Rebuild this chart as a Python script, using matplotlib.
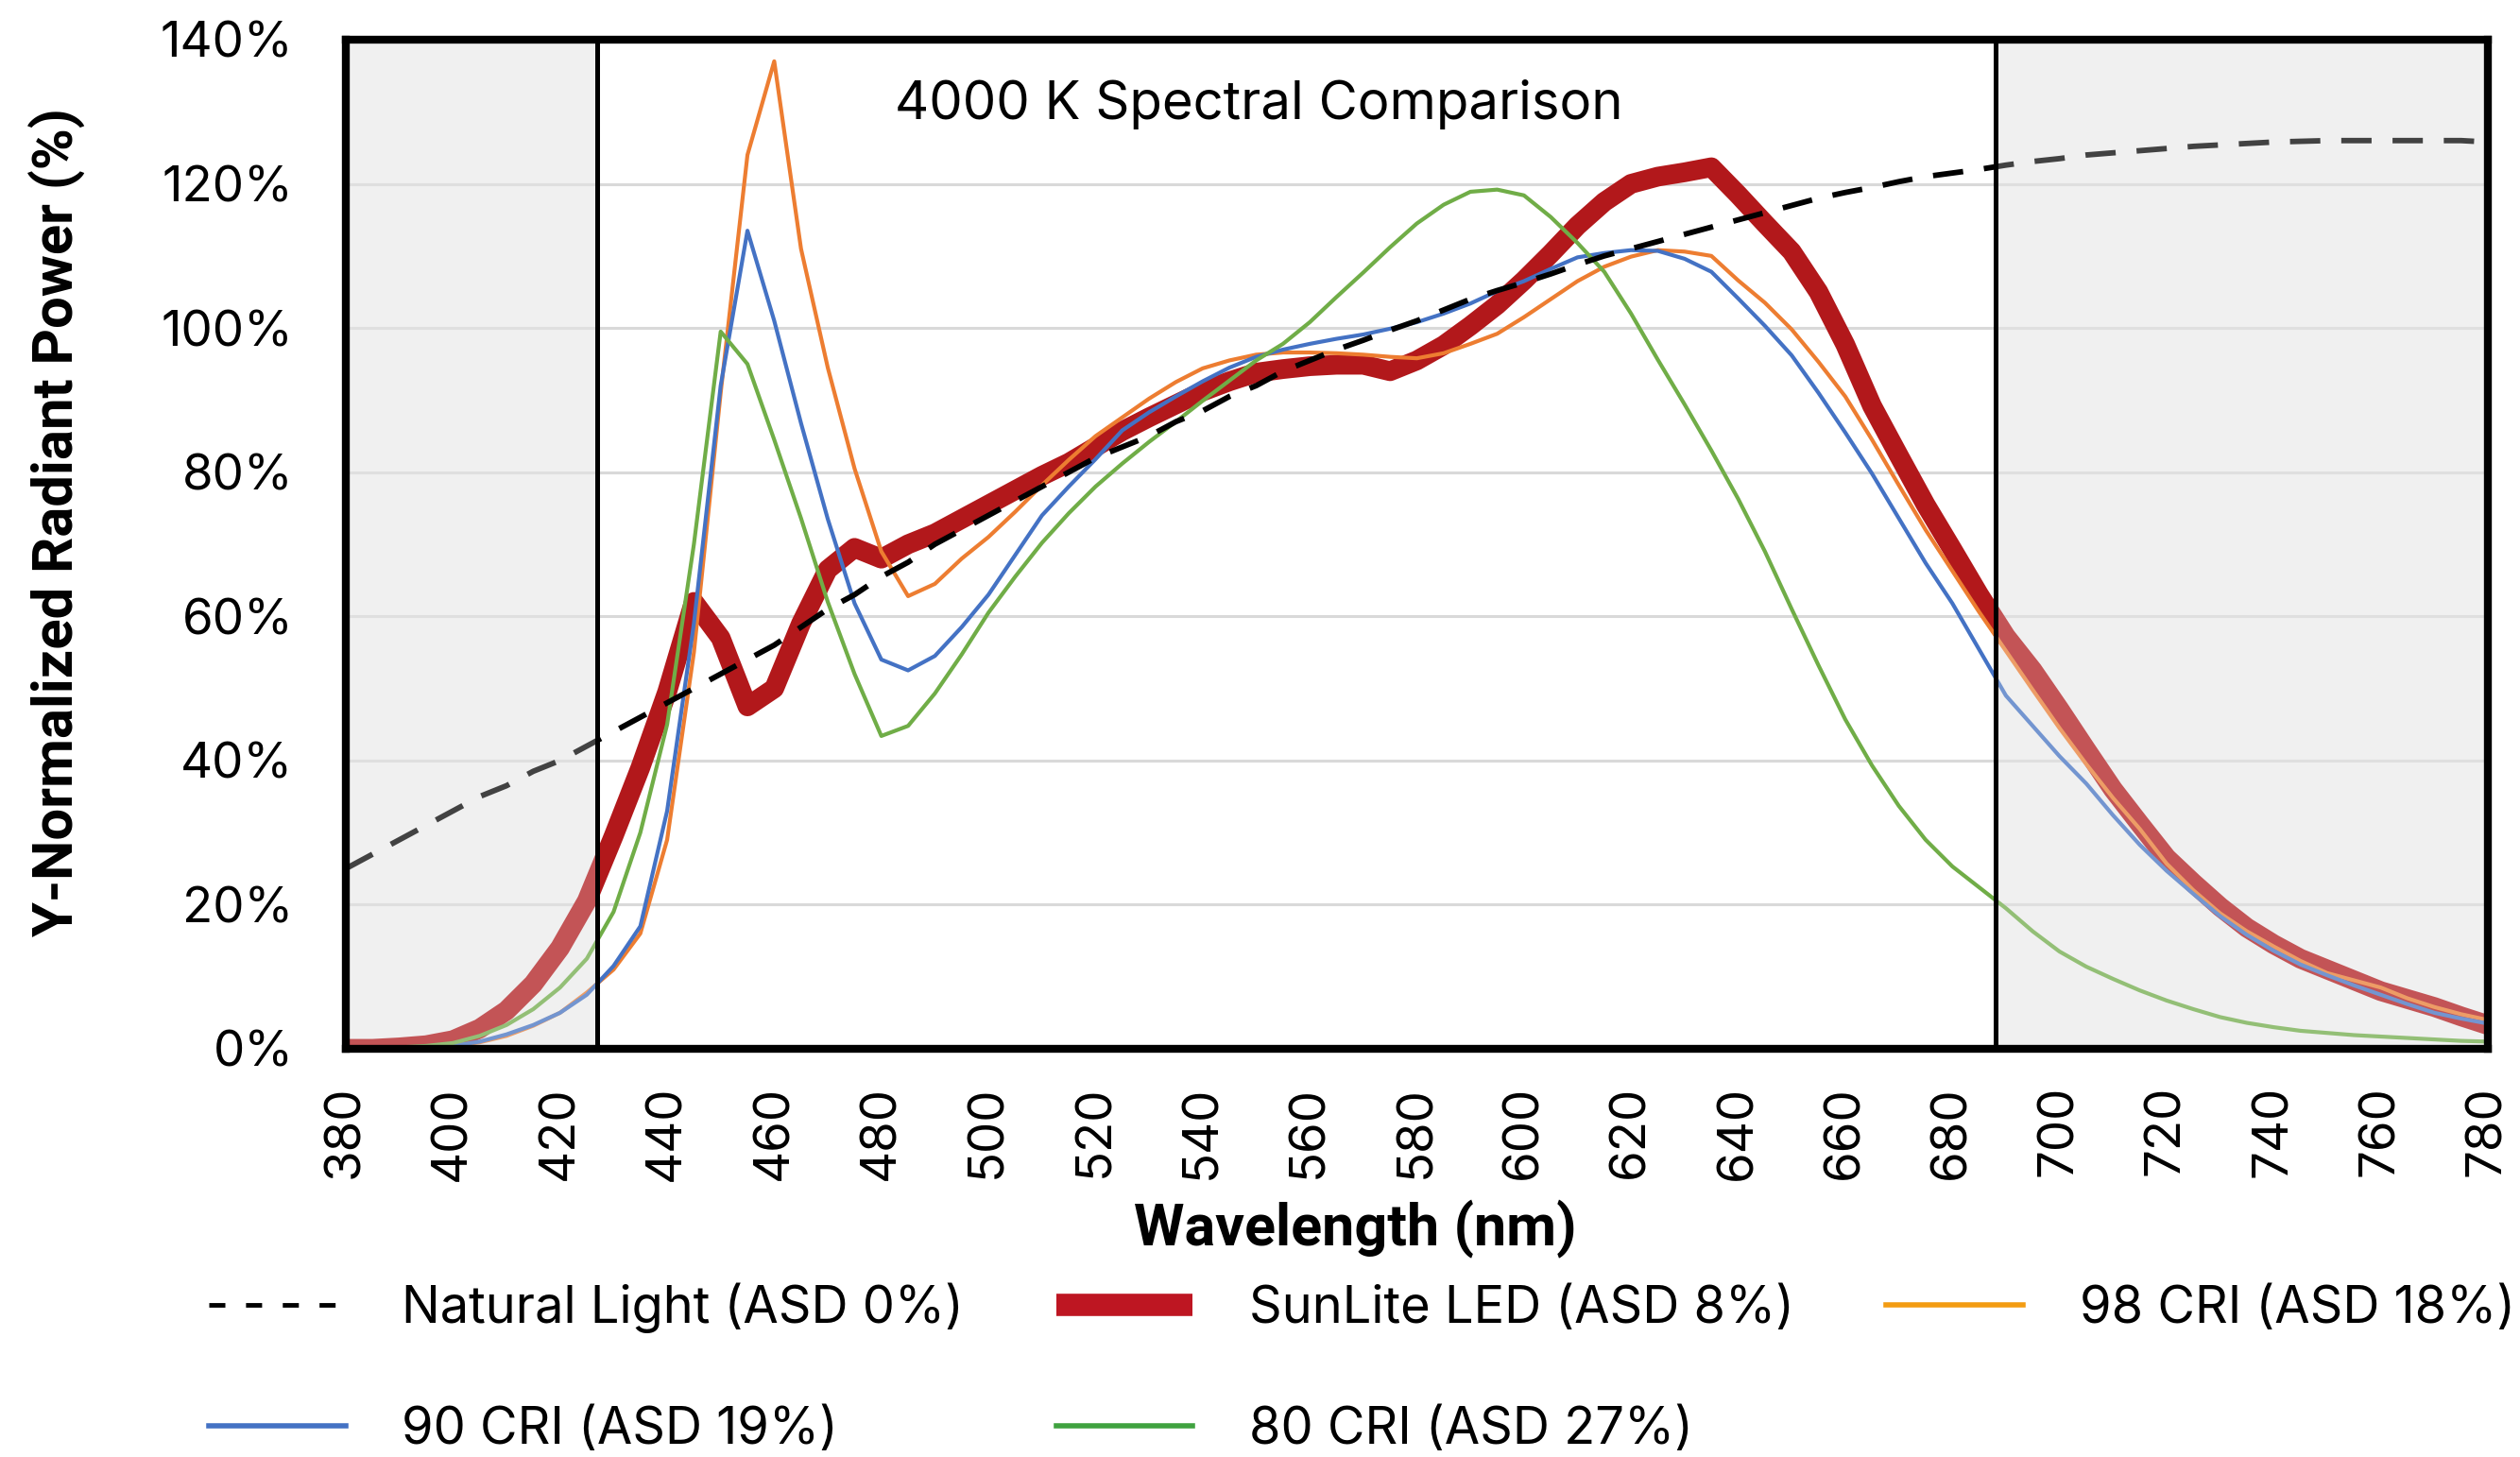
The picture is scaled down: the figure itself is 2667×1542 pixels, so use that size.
import numpy as np
import matplotlib
matplotlib.use("Agg")
import matplotlib.pyplot as plt
from matplotlib.lines import Line2D

# ---------------- data ----------------
wavelength = list(range(380, 781, 5))

natural = [25, 27, 29, 31, 33, 35, 36.5, 38.5, 40, 42,
           44, 46, 48, 50, 52, 54, 56, 58.5, 61, 63,
           65.5, 67.5, 70, 72, 74, 76, 78, 80, 82, 83.5,
           85, 87, 88.5, 90.5, 92, 94, 95.5, 97, 98.3, 99.7,
           101, 102.5, 104, 105.2, 106.3, 107.5, 108.8, 110, 111, 112,
           113, 114, 115, 116, 117, 118, 118.8, 119.5, 120.3, 121,
           121.5, 122, 122.6, 123.1, 123.5, 124, 124.3, 124.6, 124.9, 125.2,
           125.4, 125.6, 125.8, 125.9, 126, 126, 126, 126, 126, 126,
           125.8]

sunlite = [0, 0, 0.2, 0.5, 1.2, 2.8, 5.3, 9, 14, 20.5,
           29.5, 39, 49.5, 62, 57, 47.5, 50, 59, 66.5, 69.5,
           68, 70, 71.5, 73.5, 75.5, 77.5, 79.5, 81.3, 83.5, 85.7,
           87.6, 89.4, 91.2, 92.6, 93.8, 94.3, 94.7, 94.9, 94.9, 94,
           95.5, 97.6, 100.3, 103.2, 106.6, 110.3, 114.2, 117.5, 120, 121,
           121.6, 122.3, 118.5, 114.5, 110.6, 105, 97.7, 89.2, 82.3, 75.5,
           69.3, 63, 57.2, 52.5, 47.1, 41.5, 36, 31.2, 26.5, 23,
           19.7, 16.8, 14.5, 12.5, 11, 9.5, 8, 6.9, 5.8, 4.5,
           3.3]

cri98 = [0, 0, 0, 0.1, 0.4, 0.9, 1.8, 3.2, 5, 7.8,
         11, 16, 29, 55, 91, 124, 137, 111, 94.5, 80.5,
         69, 62.8, 64.5, 68, 71, 74.5, 78.2, 81.7, 85, 87.6,
         90.2, 92.5, 94.4, 95.5, 96.3, 96.6, 96.6, 96.5, 96.3, 96,
         95.8, 96.5, 97.8, 99.2, 101.5, 104, 106.5, 108.5, 109.9, 110.8,
         110.6, 110, 106.6, 103.5, 99.8, 95.3, 90.5, 84.5, 78.2, 72,
         66.3, 60.6, 55.2, 49.8, 44.5, 39.5, 34.8, 30.5, 25.7, 22,
         18.8, 16.3, 14.2, 12.2, 10.5, 9.5, 8.5, 7, 5.8, 4.8,
         4]

cri90 = [0, 0, 0, 0.1, 0.4, 1, 2, 3.3, 5, 7.5,
         11.5, 17, 33, 59, 92, 113.5, 101, 86.8, 73.5, 61.8,
         54, 52.5, 54.5, 58.5, 63, 68.5, 74, 78, 81.8, 85.8,
         88.3, 90.5, 92.6, 94.5, 96, 97, 97.8, 98.5, 99.1, 99.9,
         100.8, 102, 103.4, 105.1, 106.5, 108.2, 109.8, 110.4, 110.8, 110.7,
         109.6, 107.8, 104.1, 100.3, 96.2, 91, 85.5, 79.8, 73.6, 67.4,
         61.8, 55.4, 49, 44.8, 40.6, 36.8, 32.4, 28.3, 24.7, 21.5,
         18.4, 15.8, 13.6, 11.7, 10.2, 8.8, 7.5, 6.2, 5, 4.2,
         3.5]

cri80 = [0, 0, 0.2, 0.4, 0.8, 1.8, 3.3, 5.5, 8.5, 12.5,
         19, 30, 45, 70, 99.5, 95, 84.5, 73.6, 62, 52,
         43.4, 44.8, 49.3, 54.7, 60.5, 65.5, 70.2, 74.3, 78, 81.2,
         84.2, 87, 89.9, 92.7, 95.5, 97.8, 100.8, 104.3, 107.7, 111.2,
         114.5, 117.1, 118.9, 119.2, 118.4, 115.4, 111.8, 107.8, 102, 95.6,
         89.4, 83, 76.3, 69, 61, 53.2, 45.7, 39.3, 33.7, 29,
         25.3, 22.4, 19.5, 16.3, 13.5, 11.4, 9.7, 8.1, 6.7, 5.5,
         4.4, 3.6, 3, 2.5, 2.2, 1.9, 1.7, 1.5, 1.3, 1.1,
         1]

series_labels = ["Natural Light (ASD 0%)", "SunLite LED (ASD 8%)", "98 CRI (ASD 18%)",
                 "90 CRI (ASD 19%)", "80 CRI (ASD 27%)"]
x_ticks = list(range(380, 781, 20))
y_ticks = list(range(0, 141, 20))
shade_left = (380, 427)
shade_right = (688, 780)

# ---------------- styling ----------------
plt.rcParams['font.family'] = ['Inter', 'DejaVu Sans']
RED = '#B2181B'
ORANGE = '#ED7D31'
BLUE = '#4472C4'
GREEN = '#70AD47'
SHADE = '#F0F0F0'

fig = plt.figure(figsize=(26.67, 15.42), dpi=100)
ax = fig.add_axes([0.13723, 0.28016, 0.85002, 0.69261])

# background shading (below) and translucent overlay (above lines)
for a, b in (shade_left, shade_right):
    ax.axvspan(a, b, color=SHADE, zorder=0, lw=0)
    ax.axvspan(a, b, color=SHADE, alpha=0.28, zorder=7, lw=0)

ax.plot(wavelength, sunlite, color=RED, lw=15, zorder=2)
ax.plot(wavelength, cri98, color=ORANGE, lw=3, zorder=3)
ax.plot(wavelength, cri90, color=BLUE, lw=3, zorder=4)
ax.plot(wavelength, cri80, color=GREEN, lw=3, zorder=5)
ax.plot(wavelength, natural, color='black', lw=4.2, ls=(0, (5.5, 3.8)), zorder=6)

for xv in (shade_left[1], shade_right[0]):
    ax.axvline(xv, color='black', lw=3.6, zorder=8)

ax.set_xlim(380, 780)
ax.set_ylim(0, 140)
ax.set_xticks(x_ticks)
ax.set_xticklabels([str(v) for v in x_ticks], rotation=90)
ax.set_yticks(y_ticks)
ax.set_yticklabels([f"{v}%" for v in y_ticks])
ax.tick_params(axis='both', length=0, labelsize=38)
ax.tick_params(axis='y', pad=40)
ax.tick_params(axis='x', pad=28)
ax.yaxis.grid(True, color='#D9D9D9', lw=2.2, zorder=1)
ax.set_axisbelow(True)
for s in ax.spines.values():
    s.set_linewidth(6)
    s.set_color('black')
    s.set_zorder(10)

fig.text(0.4994, 0.9285, "4000 K Spectral Comparison", fontsize=40.5,
         ha='center', va='center')
fig.text(0.0229, 0.6414, "Y-Normalized Radiant Power (%)", fontsize=43,
         fontweight='bold', rotation=90, ha='center', va='center',
         family=['Roboto', 'DejaVu Sans'])
fig.text(0.5377, 0.1563, "Wavelength (nm)", fontsize=44, fontweight='bold',
         ha='center', va='center', family=['Roboto', 'DejaVu Sans'])

h_nat = Line2D([], [], color='black', lw=3.5, ls=(0, (3.5, 4.5)))
h_sun = Line2D([], [], color='#BE1622', lw=17, solid_capstyle='butt')
h_98 = Line2D([], [], color='#F39C12', lw=4)
h_90 = Line2D([], [], color=BLUE, lw=4)
h_80 = Line2D([], [], color='#3FA23F', lw=4)
# matplotlib fills legend columns first; order so rows read left-to-right
handles = [h_nat, h_90, h_sun, h_80, h_98]
labels = [series_labels[0], series_labels[3], series_labels[1],
          series_labels[4], series_labels[2]]
leg = fig.legend(handles, labels, ncol=3, loc='upper left',
                 bbox_to_anchor=(0.0829, 0.1195), frameon=False, fontsize=39,
                 handlelength=2.67, handletextpad=1.1, columnspacing=1.8,
                 labelspacing=1.42, borderpad=0, borderaxespad=0)

fig.savefig("out.png", dpi=100)
